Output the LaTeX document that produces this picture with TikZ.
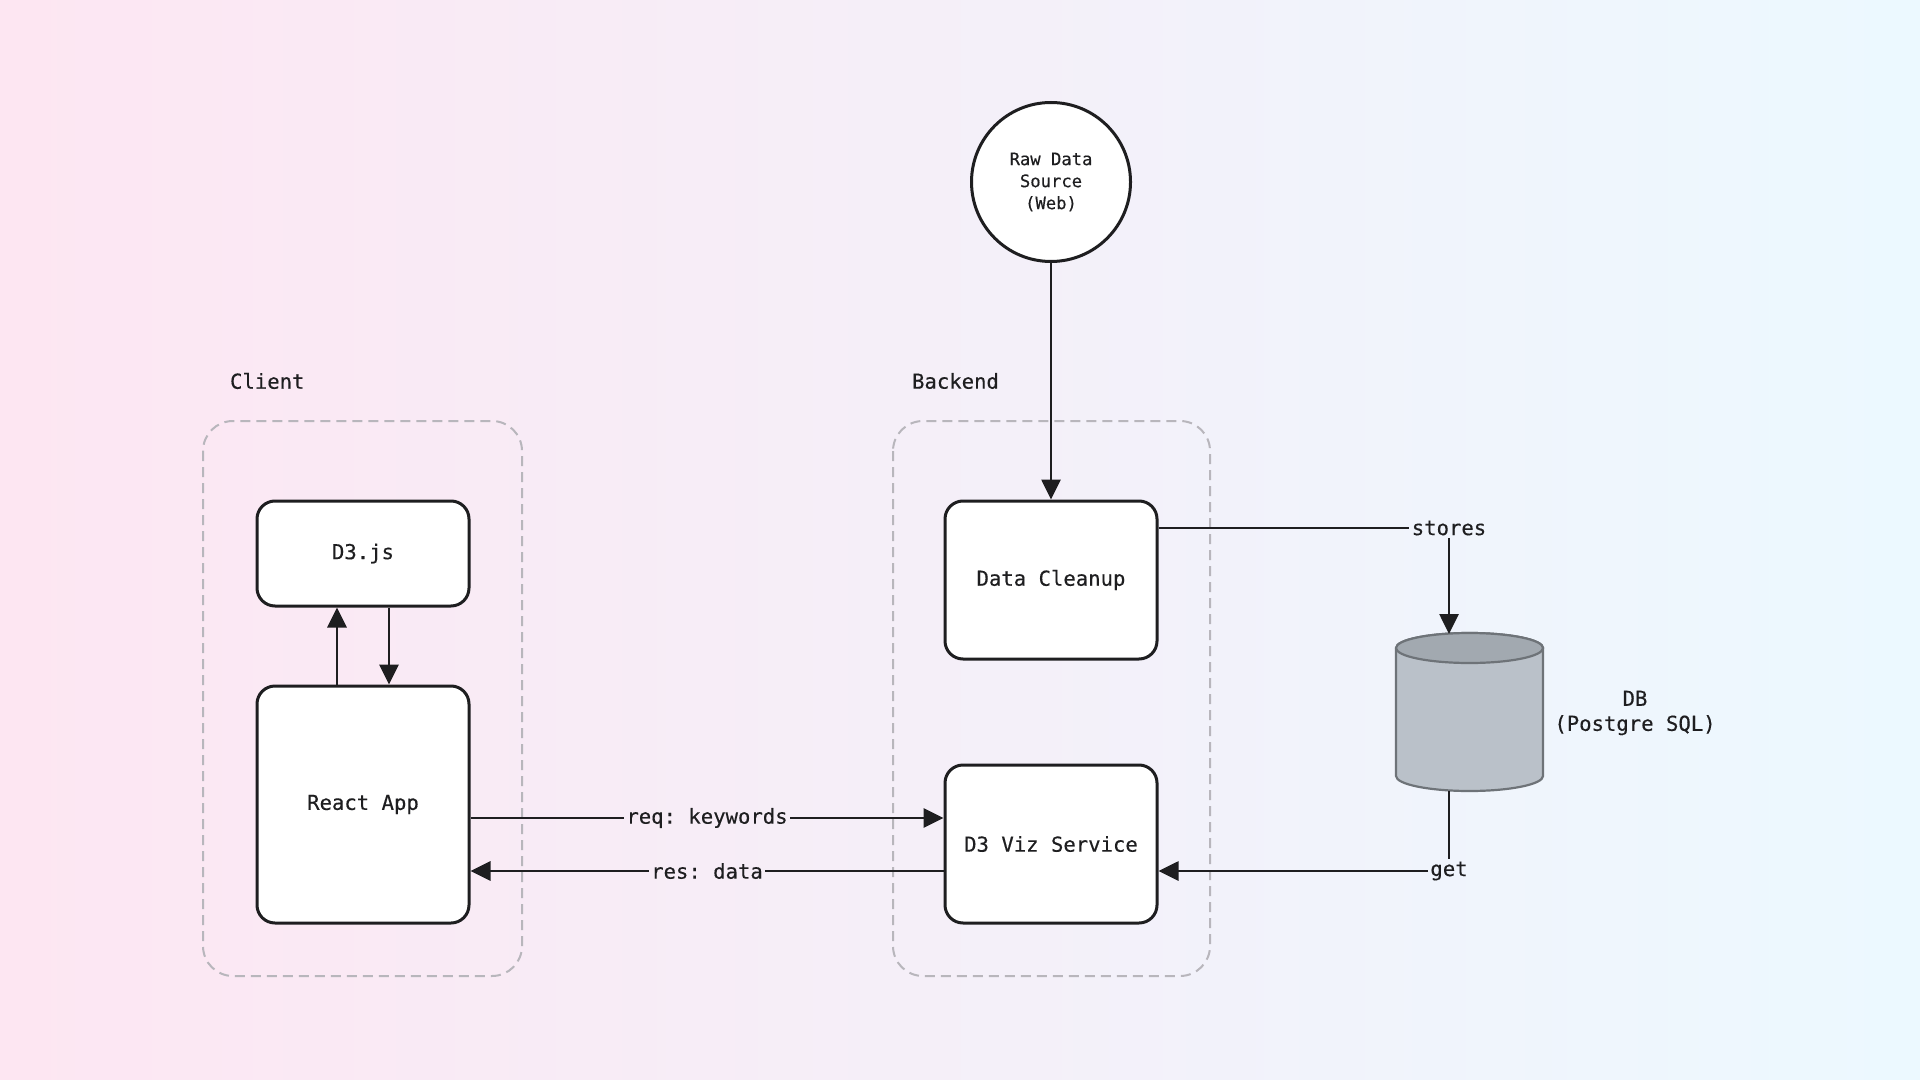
\documentclass[tikz,border=0pt]{standalone}
\usepackage{fontspec}
\setmonofont[FakeBold=0.35]{DejaVu Sans Mono}
\definecolor{bgpink}{RGB}{253,230,242}
\definecolor{bgmid}{RGB}{243,240,252}
\definecolor{bgcyan}{RGB}{236,249,255}
\definecolor{ink}{RGB}{30,30,32}
\definecolor{groupgray}{RGB}{184,182,188}
\definecolor{dbfill}{RGB}{186,193,201}
\definecolor{dbtopfill}{RGB}{162,169,176}
\definecolor{dbline}{RGB}{110,115,120}
\tikzset{every picture/.style={/utils/exec={\ttfamily}}}
\usetikzlibrary{positioning}
\usetikzlibrary{arrows.meta}

\tikzset{
  block/.style={draw=ink, line width=1.5pt, fill=white, rounded corners=9pt, minimum width=106pt, align=center, text=ink},
  group/.style={draw=groupgray, line width=1pt, dash pattern=on 5pt off 3pt, rounded corners=15pt},
  conn/.style={draw=ink, line width=1.4pt},
  arr/.style={conn, -{Triangle[length=10pt,width=9.5pt]}},
  lbl/.style={inner sep=1pt, text=ink},
}

\begin{document}
\begin{tikzpicture}[x=0.5pt, y=-0.5pt, font=\fontsize{10.3}{12.5}\selectfont]
  \shade [left color=bgpink, middle color=bgmid, right color=bgcyan] (0,0) rectangle (1920,1080);

  % groups
  \draw [group] (203,421) rectangle (522,976);
  \draw [group] (893,421) rectangle (1210,976);
  \node [anchor=west, text=ink] (clientlbl) at (223,381) {Client};
  \node [anchor=west, text=ink] (backendlbl) at (905,381) {Backend};

  \node [block, minimum height=52.5pt] (d3) at (363,553.5) {D3.js};
  \node [block, minimum height=118.5pt] (react) at (363,804.5) {React App};
  \node [block, minimum height=79pt] (clean) at (1051,580) {Data Cleanup};
  \node [block, minimum height=79pt] (viz) at (1051,844) {D3 Viz Service};
  \node [circle, draw=ink, line width=1.5pt, fill=white, minimum size=79.5pt, align=center, text=ink, font=\fontsize{8.6}{11}\selectfont] (src) at (1051,182) {Raw Data\\Source\\(Web)};

  % database
  \path [fill=dbfill, draw=dbline, line width=1.1pt] (1396,648) -- (1396,776) arc [start angle=180, end angle=360, x radius=36.75pt, y radius=7.5pt] -- (1543,648) arc [start angle=0, end angle=180, x radius=36.75pt, y radius=7.5pt] -- cycle;
  \draw [fill=dbtopfill, draw=dbline, line width=1.1pt] (1469.5,648) ellipse [x radius=36.75pt, y radius=7.5pt];
  \coordinate (dbin) at (1449,634);
  \coordinate (dbout) at (1449,791);
  \node [align=center, text=ink] (dblbl) at (1635,713) {DB\\(Postgre SQL)};

  \node [lbl] (stores) at (1449,528) {stores};
  \node [lbl] (get) at (1449,871) {get};
  \node [lbl] (req) at (707,818) {req: keywords};
  \node [lbl] (res) at (707,871) {res: data};

  \draw [arr] (src) -- (clean);
  \draw [conn] (clean.east |- stores) -- (stores);
  \draw [arr] (stores) -- (dbin);
  \draw [conn] (dbout) -- (get);
  \draw [arr] (get) -- (viz.east |- get);
  \draw [conn] (react.east |- req) -- (req);
  \draw [arr] (req) -- (viz.west |- req);
  \draw [conn] (viz.west |- res) -- (res);
  \draw [arr] (res) -- (react.east |- res);

  \draw [arr] ([xshift=-13pt]react.north) -- ([xshift=-13pt]d3.south);
  \draw [arr] ([xshift=13pt]d3.south) -- ([xshift=13pt]react.north);
\end{tikzpicture}
\end{document}
